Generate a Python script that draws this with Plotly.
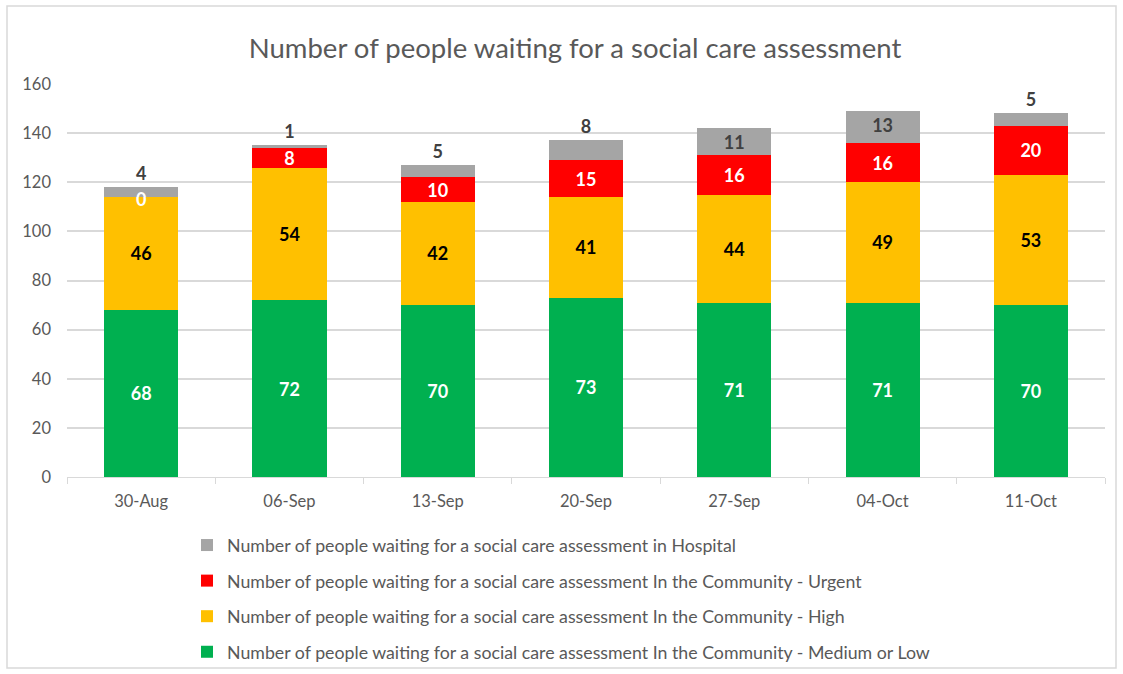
import plotly.graph_objects as go

categories = ["30-Aug", "06-Sep", "13-Sep", "20-Sep", "27-Sep", "04-Oct", "11-Oct"]
medium_low = [68, 72, 70, 73, 71, 71, 70]
high = [46, 54, 42, 41, 44, 49, 53]
urgent = [0, 8, 10, 15, 16, 16, 20]
hospital = [4, 1, 5, 8, 11, 13, 5]
y_ticks = [0, 20, 40, 60, 80, 100, 120, 140, 160]

names = [
    "Number of people waiting for a social care assessment In the Community - Medium or Low",
    "Number of people waiting for a social care assessment In the Community - High",
    "Number of people waiting for a social care assessment In the Community - Urgent",
    "Number of people waiting for a social care assessment in Hospital",
]
colors = ["#00B050", "#FFC000", "#FF0000", "#A5A5A5"]
label_colors = ["#FFFFFF", "#000000", "#FFFFFF", "#404040"]
FONT = "Lato"

fig = go.Figure()
series = [medium_low, high, urgent, hospital]
for i, vals in enumerate(series):
    if i == 3:
        tpos = ["inside" if v >= 10 else "outside" for v in vals]
    else:
        tpos = "inside"
    texts = [str(v) if v > 0 else "" for v in vals]
    fig.add_trace(go.Bar(
        x=categories, y=vals, name=names[i],
        marker=dict(color=colors[i], line=dict(width=0)),
        text=texts, textposition=tpos,
        insidetextanchor="end" if i == 3 else "middle",
        textangle=0,
        constraintext="none",
        cliponaxis=False,
        textfont=dict(family=FONT, size=18, color=label_colors[i], weight="bold"),
        legendgroup=f"g{i}",
        legendrank=4 - i,
    ))

# zero-valued urgent labels drawn at the top of the stack beneath
for c, m, h, u in zip(categories, medium_low, high, urgent):
    if u == 0:
        fig.add_annotation(x=c, y=m + h + u, text="<b>0</b>", showarrow=False,
                           yanchor="middle", yshift=-2,
                           font=dict(family=FONT, size=18, color="#FFFFFF"))

L, R, T, B = 67, 18, 84, 197
W, H = 1123, 674
pw, ph = W - L - R, H - T - B

def px_x(p):
    return (p - L) / pw

def px_y(p):
    return (H - B - p) / ph

fig.add_shape(type="rect", xref="paper", yref="paper",
              x0=px_x(7), x1=px_x(1116), y0=px_y(668), y1=px_y(6),
              line=dict(color="#D9D9D9", width=1.5), fillcolor="rgba(0,0,0,0)", layer="below")

fig.update_layout(
    width=W, height=H,
    barmode="stack", bargap=0.5,
    margin=dict(l=L, r=R, t=T, b=B, autoexpand=False),
    paper_bgcolor="white", plot_bgcolor="white",
    font=dict(family=FONT, color="#595959"),
    title=dict(text="Number of people waiting for a social care assessment",
               x=575 / W, xanchor="center", y=1 - 48 / H, yanchor="middle",
               font=dict(family=FONT, size=27.5, color="#595959")),
    xaxis=dict(showgrid=False, showline=True, linecolor="#D9D9D9", linewidth=1,
               ticks="outside", tickson="boundaries", ticklen=6, tickcolor="#D9D9D9",
               ticklabelstandoff=9,
               tickfont=dict(family=FONT, size=16.5, color="#595959")),
    yaxis=dict(range=[0, 160], tickvals=y_ticks, showgrid=True, gridcolor="#D9D9D9",
               gridwidth=1.5, zeroline=False, showline=False, ticklabelstandoff=15,
               tickfont=dict(family=FONT, size=16.5, color="#595959")),
    showlegend=True,
    legend=dict(orientation="v", traceorder="grouped", tracegroupgap=9.5,
                x=px_x(187), xanchor="left", y=px_y(527), yanchor="top",
                font=dict(family=FONT, size=17.75, color="#595959"),
                bgcolor="rgba(0,0,0,0)", itemclick=False),
)

fig.write_html("out.html", config={"displayModeBar": False},
               post_script="document.body.style.margin='0';")
